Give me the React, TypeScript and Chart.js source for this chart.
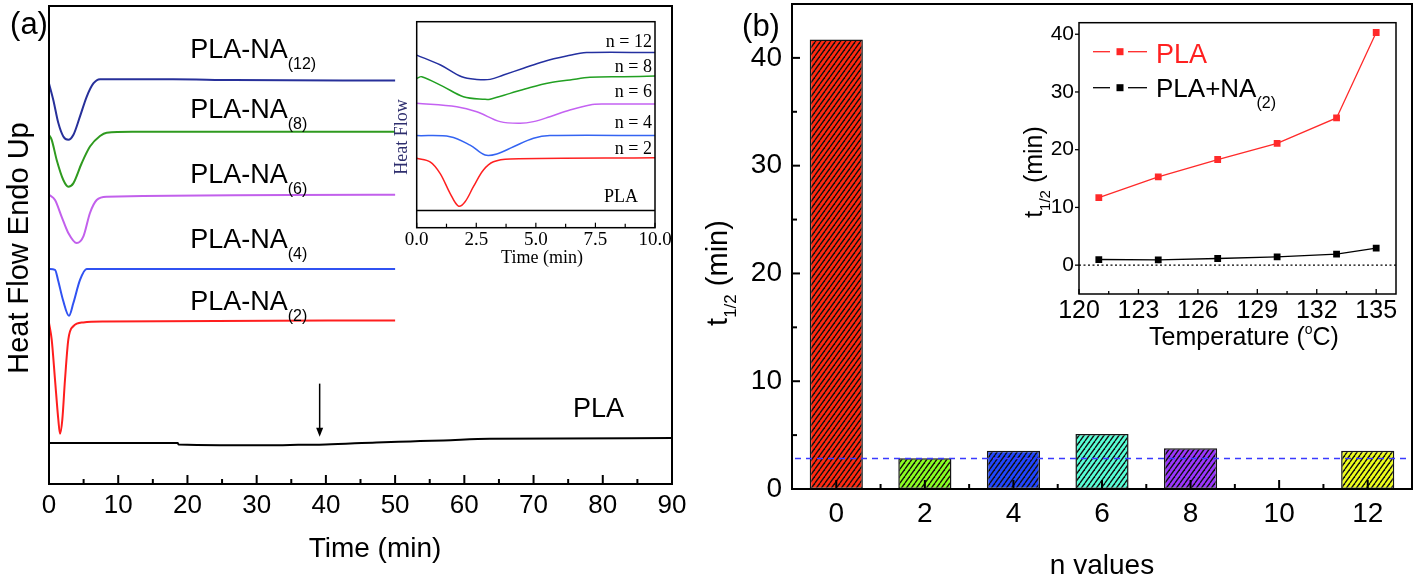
import React, { useEffect, useRef } from 'react';
import { Chart, registerables } from 'chart.js';

Chart.register(...registerables);

const SANS = '"Liberation Sans", Arial, Helvetica, sans-serif';
const SERIF = '"Liberation Serif", "Times New Roman", Times, serif';
Chart.defaults.font.family = SANS;
Chart.defaults.color = '#000';

/* ---------------- Panel (a) main: heat flow (a.u., offset) vs time (min) ---------------- */
const na12Time = [0, 0.63, 1.35, 2.07, 2.79, 3.51, 4.48, 5.44, 6.41, 7.37, 17.9, 26.6, 50];
const na12Flow = [83.8, 80.3, 75.5, 72.7, 72.0, 73.0, 76.9, 81.0, 83.8, 84.7, 84.7, 84.5, 84.4];
const na8Time = [0, 0.39, 1.11, 2.07, 2.79, 3.51, 4.72, 5.92, 7.37, 8.33, 12, 50];
const na8Flow = [73.0, 72.0, 67.8, 63.6, 62.2, 62.9, 67.1, 70.6, 72.8, 73.5, 73.7, 73.7];
const na6Time = [0, 0.87, 1.83, 2.79, 4.0, 4.97, 5.92, 6.89, 8.33, 50];
const na6Flow = [60.5, 59.4, 55.9, 52.5, 50.4, 51.8, 56.7, 59.4, 60.1, 60.5];
const na4Time = [0, 0.87, 1.3, 2.02, 2.89, 3.51, 4.48, 5.44, 50];
const na4Flow = [45.0, 44.8, 42.7, 38.5, 35.2, 37.8, 42.7, 45.0, 45.0];
const na2Time = [0, 0.39, 0.87, 1.35, 1.59, 1.92, 2.31, 2.79, 3.51, 4.96, 8.09, 50];
const na2Flow = [33.7, 30.2, 21.8, 13.4, 10.5, 13.4, 21.8, 30.2, 33.0, 33.8, 34.0, 34.2];
const plaTime = [0, 18.6, 18.7, 33, 36, 40, 47.3, 52.2, 57, 63.7, 90];
const plaFlow = [8.57, 8.57, 8.28, 8.1, 8.2, 8.28, 8.7, 8.91, 9.12, 9.47, 9.6];

const curveLabelsA = [
  { text: 'PLA-NA', sub: '(12)' },
  { text: 'PLA-NA', sub: '(8)' },
  { text: 'PLA-NA', sub: '(6)' },
  { text: 'PLA-NA', sub: '(4)' },
  { text: 'PLA-NA', sub: '(2)' },
  { text: 'PLA', sub: '' },
];
const curveLabelAnchorsA = [
  [20.4, 89.1], [20.4, 76.6], [20.4, 63.0], [20.4, 49.4], [20.4, 36.5], [75.7, 14.1],
];
const arrowA = { t: 39.1, from: 21.0, to: 9.9 };

/* ---------------- Panel (a) inset: first 10 min ---------------- */
const in12Time = [0, 1.0, 1.89, 2.52, 3.08, 3.64, 4.48, 5.31, 6.29, 7.13, 10];
const in12Flow = [83.8, 79.0, 73.3, 72.0, 72.0, 74.1, 77.4, 80.6, 83.3, 85.0, 85.0];
const in8Time = [0, 0.21, 1.1, 1.96, 2.87, 3.08, 3.92, 4.76, 5.59, 6.43, 7.27, 8.67, 10];
const in8Flow = [72.5, 73.3, 68.6, 63.6, 62.3, 62.4, 65.2, 68.1, 70.4, 71.7, 73.0, 73.3, 73.6];
const in6Time = [0, 1.68, 2.52, 3.5, 4.34, 4.9, 5.59, 6.43, 7.27, 7.83, 10];
const in6Flow = [60.4, 58.7, 56.3, 51.5, 50.7, 51.5, 53.9, 57.1, 59.6, 60.0, 60.0];
const in4Time = [0, 1.4, 2.24, 2.87, 3.36, 4.06, 4.9, 5.59, 10];
const in4Flow = [44.7, 44.2, 40.1, 35.3, 35.8, 39.3, 43.4, 44.7, 44.7];
const in2Time = [0, 0.56, 0.98, 1.4, 1.75, 2.03, 2.38, 2.8, 3.22, 3.92, 10];
const in2Flow = [33.7, 32.0, 26.4, 16.7, 10.5, 12.6, 19.9, 28.0, 32.0, 33.4, 34.0];
const inPlaTime = [0, 10];
const inPlaFlow = [8.3, 8.3];

const insetLabelsA = ['n = 12', 'n = 8', 'n = 6', 'n = 4', 'n = 2', 'PLA'];
const insetLabelAnchorsA = [[9.87, 87.9], [9.87, 75.7], [9.87, 63.6], [9.87, 48.3], [9.87, 35.8], [9.29, 12.6]];

/* ---------------- Panel (b): t1/2 vs n ---------------- */
const nValues = ['0', '2', '4', '6', '8', '10', '12'];
const halfTimes = [41.7, 2.85, 3.55, 5.1, 3.78, null, 3.55];
const referenceHalfTime = 2.83;

/* ---------------- Panel (b) inset: t1/2 vs temperature ---------------- */
const temperatures = [121, 124, 127, 130, 133, 135];
const halfTimePLA = [11.7, 15.3, 18.3, 21.1, 25.5, 40.3];
const halfTimePLANA2 = [0.97, 0.92, 1.15, 1.44, 1.9, 2.95];

/* ---------------- helpers ---------------- */
type Part = { t: string; size: number; dy?: number; family?: string; color?: string };

function drawRich(ctx: any, x: number, y: number, parts: Part[], align = 'left', rotate = 0, family = SANS, color = '#000') {
  ctx.save();
  ctx.translate(x, y);
  if (rotate) ctx.rotate(rotate);
  ctx.textBaseline = 'alphabetic';
  ctx.textAlign = 'left';
  const widths = parts.map((p) => {
    ctx.font = `${p.size}px ${p.family || family}`;
    return ctx.measureText(p.t).width;
  });
  const total = widths.reduce((a, b) => a + b, 0);
  let cx = align === 'center' ? -total / 2 : align === 'right' ? -total : 0;
  parts.forEach((p, i) => {
    ctx.font = `${p.size}px ${p.family || family}`;
    ctx.fillStyle = p.color || color;
    ctx.fillText(p.t, cx, p.dy || 0);
    cx += widths[i];
  });
  ctx.restore();
}

function seg(ctx: any, x1: number, y1: number, x2: number, y2: number) {
  ctx.beginPath();
  ctx.moveTo(x1, y1);
  ctx.lineTo(x2, y2);
  ctx.stroke();
}

function drawFrame(chart: any, lw: number) {
  const { ctx, chartArea: ca } = chart;
  ctx.save();
  ctx.strokeStyle = '#000';
  ctx.lineWidth = lw;
  ctx.strokeRect(ca.left, ca.top, ca.right - ca.left, ca.bottom - ca.top);
  ctx.restore();
}

// dir: -1 = into the plot (upwards), +1 = outwards
function drawXTicks(chart: any, major: number, minor: number, dir: number, lw: number) {
  const { ctx, chartArea: ca } = chart;
  const sx = chart.scales.x;
  const px = sx.ticks.map((t: any, i: number) => sx.getPixelForTick(i));
  ctx.save();
  ctx.strokeStyle = '#000';
  ctx.lineWidth = lw;
  px.forEach((p: number, i: number) => {
    seg(ctx, p, ca.bottom, p, ca.bottom + dir * major);
    if (minor > 0 && i < px.length - 1) {
      const m = (p + px[i + 1]) / 2;
      seg(ctx, m, ca.bottom, m, ca.bottom + dir * minor);
    }
  });
  ctx.restore();
}

// dir: +1 = into the plot (rightwards), -1 = outwards
function drawYTicks(chart: any, major: number, minor: number, dir: number, lw: number) {
  const { ctx, chartArea: ca } = chart;
  const sy = chart.scales.y;
  const py = sy.ticks.map((t: any, i: number) => sy.getPixelForTick(i));
  ctx.save();
  ctx.strokeStyle = '#000';
  ctx.lineWidth = lw;
  py.forEach((p: number, i: number) => {
    seg(ctx, ca.left, p, ca.left + dir * major, p);
    if (minor > 0 && i < py.length - 1) {
      const m = (p + py[i + 1]) / 2;
      seg(ctx, ca.left, m, ca.left + dir * minor, m);
    }
  });
  ctx.restore();
}

const fixSize = (w: number | null, h: number | null) => (s: any) => {
  if (w !== null) s.width = w;
  if (h !== null) s.height = h;
  s.paddingTop = 0;
  s.paddingBottom = 0;
  s.paddingLeft = 0;
  s.paddingRight = 0;
};

const pts = (xs: number[], ys: number[]) => xs.map((x, i) => ({ x, y: ys[i] }));

function hatch(color: string) {
  const w = 5, h = 7;
  const c = document.createElement('canvas');
  c.width = w;
  c.height = h;
  const g = c.getContext('2d') as CanvasRenderingContext2D;
  g.fillStyle = color;
  g.fillRect(0, 0, w, h);
  g.strokeStyle = '#101010';
  g.lineWidth = 1.35;
  for (const k of [-1, 0, 1]) {
    g.beginPath();
    g.moveTo(k * w, h);
    g.lineTo(k * w + w, 0);
    g.stroke();
  }
  return g.createPattern(c, 'repeat');
}

const baseOptions = (padding: any) => ({
  animation: false,
  responsive: false,
  maintainAspectRatio: false,
  layout: { padding },
  plugins: { legend: { display: false }, tooltip: { enabled: false }, title: { display: false } },
  elements: { point: { radius: 0 }, line: { tension: 0 } },
});

/* ---------------- chart configs ---------------- */
function makeMainA() {
  const series: [number[], number[], string][] = [
    [na12Time, na12Flow, '#27309a'],
    [na8Time, na8Flow, '#2f9a1f'],
    [na6Time, na6Flow, '#c260ec'],
    [na4Time, na4Flow, '#3052f2'],
    [na2Time, na2Flow, '#ff1e1e'],
    [plaTime, plaFlow, '#000000'],
  ];
  const plugin = {
    id: 'panelA',
    afterDatasetsDraw(chart: any) {
      const { ctx } = chart;
      const { x, y } = chart.scales;
      drawFrame(chart, 2);
      drawXTicks(chart, 9, 5, -1, 2);
      curveLabelsA.forEach((lab, i) => {
        const [t, v] = curveLabelAnchorsA[i];
        const parts: Part[] = [{ t: lab.text, size: 27 }];
        if (lab.sub) parts.push({ t: lab.sub, size: 16, dy: 11 });
        drawRich(ctx, x.getPixelForValue(t), y.getPixelForValue(v), parts);
      });
      const ax = x.getPixelForValue(arrowA.t);
      const ay1 = y.getPixelForValue(arrowA.from);
      const ay2 = y.getPixelForValue(arrowA.to);
      ctx.save();
      ctx.strokeStyle = '#000';
      ctx.fillStyle = '#000';
      ctx.lineWidth = 1.5;
      seg(ctx, ax, ay1, ax, ay2 - 6);
      ctx.beginPath();
      ctx.moveTo(ax - 3.5, ay2 - 9);
      ctx.lineTo(ax + 3.5, ay2 - 9);
      ctx.lineTo(ax, ay2);
      ctx.closePath();
      ctx.fill();
      ctx.restore();
      drawRich(ctx, 29, 34, [{ t: '(a)', size: 31 }], 'center');
      drawRich(ctx, 28, 248, [{ t: 'Heat Flow Endo Up', size: 29 }], 'center', -Math.PI / 2);
      drawRich(ctx, 375, 557, [{ t: 'Time (min)', size: 28 }], 'center');
    },
  };
  return {
    type: 'line',
    data: {
      datasets: series.map(([t, f, c]) => ({
        data: pts(t, f),
        borderColor: c,
        borderWidth: 2,
        pointRadius: 0,
        cubicInterpolationMode: 'monotone',
        fill: false,
      })),
    },
    options: {
      ...baseOptions({ left: 0, top: 6, right: 28, bottom: 0 }),
      scales: {
        x: {
          type: 'linear', min: 0, max: 90,
          ticks: { stepSize: 10, font: { family: SANS, size: 26 }, color: '#000', padding: 6, maxRotation: 0, autoSkip: false },
          grid: { display: false, drawTicks: false }, border: { display: false },
          afterFit: fixSize(null, 94),
        },
        y: {
          type: 'linear', min: 0, max: 100,
          ticks: { display: false },
          grid: { display: false, drawTicks: false }, border: { display: false },
          afterFit: fixSize(49, null),
        },
      },
    },
    plugins: [plugin],
  };
}

const IA = { x: 385, y: 12 };
function makeInsetA() {
  const series: [number[], number[], string][] = [
    [in12Time, in12Flow, '#2430a0'],
    [in8Time, in8Flow, '#22a022'],
    [in6Time, in6Flow, '#c462f2'],
    [in4Time, in4Flow, '#3464f2'],
    [in2Time, in2Flow, '#ff2020'],
    [inPlaTime, inPlaFlow, '#000000'],
  ];
  const plugin = {
    id: 'insetA',
    afterDatasetsDraw(chart: any) {
      const { ctx } = chart;
      const { x, y } = chart.scales;
      drawFrame(chart, 1.5);
      drawXTicks(chart, 5, 4, -1, 1.2);
      insetLabelsA.forEach((lab, i) => {
        const [t, v] = insetLabelAnchorsA[i];
        drawRich(ctx, x.getPixelForValue(t), y.getPixelForValue(v), [{ t: lab, size: 18 }], 'right', 0, SERIF);
      });
      ctx.save();
      ctx.translate(-IA.x, -IA.y);
      drawRich(ctx, 407, 137, [{ t: 'Heat Flow', size: 18 }], 'center', -Math.PI / 2, SERIF, '#2e2e6e');
      drawRich(ctx, 542, 263, [{ t: 'Time (min)', size: 18 }], 'center', 0, SERIF);
      ctx.restore();
    },
  };
  return {
    type: 'line',
    data: {
      datasets: series.map(([t, f, c]) => ({
        data: pts(t, f),
        borderColor: c,
        borderWidth: 1.5,
        pointRadius: 0,
        tension: 0.35,
        fill: false,
      })),
    },
    options: {
      ...baseOptions({ left: 0, top: 9.7, right: 20, bottom: 0 }),
      scales: {
        x: {
          type: 'linear', min: 0, max: 10,
          ticks: {
            stepSize: 2.5, font: { family: SERIF, size: 19 }, color: '#000', padding: 1, maxRotation: 0, autoSkip: false,
            callback: (v: any) => Number(v).toFixed(1),
          },
          grid: { display: false, drawTicks: false }, border: { display: false },
          afterFit: fixSize(null, 44.3),
        },
        y: {
          type: 'linear', min: 0, max: 100,
          ticks: { display: false },
          grid: { display: false, drawTicks: false }, border: { display: false },
          afterFit: fixSize(31.7, null),
        },
      },
    },
    plugins: [plugin],
  };
}

const BO = { x: 700, y: 0 };
function makeMainB() {
  const barColors = ['#ff2a12', '#8cff22', '#2246ff', '#58ffd6', '#9c36ff', '#ffffff', '#eeff1c'];
  const plugin = {
    id: 'panelB',
    afterDatasetsDraw(chart: any) {
      const { ctx, chartArea: ca } = chart;
      const sy = chart.scales.y;
      const yr = sy.getPixelForValue(referenceHalfTime);
      ctx.save();
      ctx.strokeStyle = '#3a3aff';
      ctx.lineWidth = 1.3;
      ctx.setLineDash([6, 5]);
      seg(ctx, ca.left + 3, yr, ca.right, yr);
      ctx.restore();
      drawFrame(chart, 2);
      drawXTicks(chart, 9, 5, -1, 2);
      drawYTicks(chart, 8, 5, 1, 2);
      ctx.save();
      ctx.translate(-BO.x, -BO.y);
      drawRich(ctx, 761, 36, [{ t: '(b)', size: 31 }], 'center');
      drawRich(ctx, 727, 273, [{ t: 't', size: 29 }, { t: '1/2', size: 17, dy: 9 }, { t: ' (min)', size: 29 }], 'center', -Math.PI / 2);
      drawRich(ctx, 1102, 574, [{ t: 'n values', size: 28 }], 'center');
      ctx.restore();
    },
  };
  return {
    type: 'bar',
    data: {
      labels: nValues,
      datasets: [
        {
          data: halfTimes,
          backgroundColor: barColors.map((c) => hatch(c)),
          borderColor: '#151515',
          borderWidth: 1.5,
          borderSkipped: false,
          barPercentage: 0.6,
          categoryPercentage: 1,
        },
      ],
    },
    options: {
      ...baseOptions({ left: 0, top: 4, right: 6, bottom: 0 }),
      scales: {
        x: {
          type: 'category', offset: true,
          ticks: { font: { family: SANS, size: 28 }, color: '#000', padding: 8, maxRotation: 0, autoSkip: false },
          grid: { display: false, drawTicks: false }, border: { display: false },
          afterFit: fixSize(null, 89),
        },
        y: {
          type: 'linear', min: 0, max: 45,
          ticks: { stepSize: 10, includeBounds: false, font: { family: SANS, size: 28 }, color: '#000', padding: 10 },
          grid: { display: false, drawTicks: false }, border: { display: false },
          afterFit: fixSize(92, null),
        },
      },
    },
    plugins: [plugin],
  };
}

const IB = { x: 1000, y: 10 };
function makeInsetB() {
  const plugin = {
    id: 'insetB',
    beforeDatasetsDraw(chart: any) {
      const { ctx, chartArea: ca } = chart;
      const y0 = chart.scales.y.getPixelForValue(0);
      ctx.save();
      ctx.strokeStyle = '#000';
      ctx.lineWidth = 1.3;
      ctx.setLineDash([2, 2.5]);
      seg(ctx, ca.left, y0, ca.right, y0);
      ctx.restore();
    },
    afterDatasetsDraw(chart: any) {
      const { ctx, chartArea: ca } = chart;
      drawFrame(chart, 1.5);
      drawXTicks(chart, 5, 3, -1, 1.3);
      drawYTicks(chart, 4, 0, -1, 1.3);
      // legend
      const rows = [
        { color: '#ff2626', dy: 29, base: 40.3, parts: [{ t: 'PLA', size: 27, color: '#ff2020' }] as Part[] },
        { color: '#000000', dy: 65, base: 74.3, parts: [{ t: 'PLA+NA', size: 26 }, { t: '(2)', size: 16, dy: 11 }] as Part[] },
      ];
      ctx.save();
      rows.forEach((r) => {
        const yy = ca.top + r.dy;
        ctx.strokeStyle = r.color;
        ctx.fillStyle = r.color;
        ctx.lineWidth = 1.3;
        seg(ctx, ca.left + 14, yy, ca.left + 31, yy);
        seg(ctx, ca.left + 49, yy, ca.left + 68, yy);
        ctx.fillRect(ca.left + 41 - 3.5, yy - 3.5, 7, 7);
        drawRich(ctx, ca.left + 77, ca.top + r.base, r.parts);
      });
      ctx.restore();
      ctx.save();
      ctx.translate(-IB.x, -IB.y);
      drawRich(ctx, 1042, 172, [{ t: 't', size: 25 }, { t: '1/2', size: 15, dy: 8 }, { t: ' (min)', size: 25 }], 'center', -Math.PI / 2);
      drawRich(ctx, 1244, 345, [{ t: 'Temperature (', size: 25 }, { t: 'o', size: 14, dy: -11 }, { t: 'C)', size: 25 }], 'center');
      ctx.restore();
    },
  };
  return {
    type: 'line',
    data: {
      datasets: [
        {
          data: pts(temperatures, halfTimePLA),
          borderColor: '#ff2a2a', backgroundColor: '#ff2a2a', borderWidth: 1.3,
          pointStyle: 'rect', pointRadius: 4.8, pointBorderWidth: 0, fill: false,
        },
        {
          data: pts(temperatures, halfTimePLANA2),
          borderColor: '#000', backgroundColor: '#000', borderWidth: 1.4,
          pointStyle: 'rect', pointRadius: 4.8, pointBorderWidth: 0, fill: false,
        },
      ],
    },
    options: {
      ...baseOptions({ left: 0, top: 12.7, right: 14, bottom: 0 }),
      scales: {
        x: {
          type: 'linear', min: 120, max: 136,
          ticks: { stepSize: 3, includeBounds: false, font: { family: SANS, size: 25 }, color: '#000', padding: 2, maxRotation: 0, autoSkip: false },
          grid: { display: false, drawTicks: false }, border: { display: false },
          afterFit: fixSize(null, 66),
        },
        y: {
          type: 'linear', min: -5, max: 42,
          ticks: { stepSize: 10, includeBounds: false, font: { family: SANS, size: 21 }, color: '#000', padding: 5 },
          grid: { display: false, drawTicks: false }, border: { display: false },
          afterFit: fixSize(79, null),
        },
      },
    },
    plugins: [plugin],
  };
}

/* ---------------- components ---------------- */
function ChartCanvas(props: { left: number; top: number; width: number; height: number; make: () => any }) {
  const ref = useRef<HTMLCanvasElement>(null);
  useEffect(() => {
    const chart = new Chart(ref.current as HTMLCanvasElement, props.make());
    return () => chart.destroy();
  }, []);
  return (
    <canvas
      ref={ref}
      width={props.width}
      height={props.height}
      style={{ position: 'absolute', left: props.left, top: props.top, width: props.width, height: props.height }}
    />
  );
}

export default function App() {
  return (
    <div style={{ position: 'absolute', left: 0, top: 0, width: 1418, height: 578, background: '#fff', overflow: 'hidden' }}>
      <ChartCanvas left={0} top={0} width={700} height={578} make={makeMainA} />
      <ChartCanvas left={IA.x} top={IA.y} width={290} height={260} make={makeInsetA} />
      <ChartCanvas left={BO.x} top={BO.y} width={718} height={578} make={makeMainB} />
      <ChartCanvas left={IB.x} top={IB.y} width={410} height={350} make={makeInsetB} />
    </div>
  );
}
